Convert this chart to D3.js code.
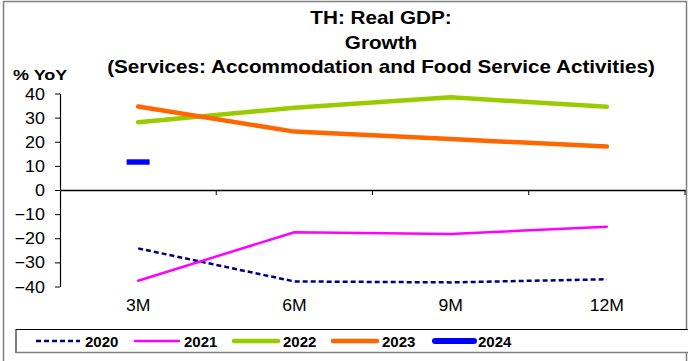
<!DOCTYPE html>
<html><head><meta charset="utf-8">
<script src="https://cdn.jsdelivr.net/npm/d3@7"></script>
<style>body{margin:0;background:#fff}svg{display:block;font-family:"Liberation Sans",Arial,sans-serif}</style>
</head><body><svg id="c" width="688" height="361"></svg>
<script>
const categories = ["3M","6M","9M","12M"];
const s2020 = [-24.2,-37.9,-38.3,-37.0];
const s2021 = [-37.6,-17.5,-18.2,-15.2];
const s2022 = [28.1,34.1,38.4,34.5];
const s2023 = [34.6,24.2,21.1,18.0];
const s2024 = [11.6,null,null,null];
const yTicks = [40,30,20,10,0,-10,-20,-30,-40];
const titleLines = ["TH: Real GDP:","Growth","(Services: Accommodation and Food Service Activities)"];

const series = [
  {name:"2020", values:s2020, color:"#000080", width:2.5, dash:"5,3"},
  {name:"2021", values:s2021, color:"#FF00FF", width:2.5, dash:null},
  {name:"2022", values:s2022, color:"#99CC00", width:4.5, dash:null},
  {name:"2023", values:s2023, color:"#FF6600", width:4.5, dash:null},
  {name:"2024", values:s2024, color:"#0000FF", width:5.5, dash:null, marker:true}
];

const svg = d3.select("#c");
svg.append("rect").attr("x",3.5).attr("y",1.5).attr("width",683).attr("height",365)
  .attr("fill","none").attr("stroke","#808080").attr("stroke-width",1.5);

const x = d3.scaleBand().domain(categories).range([60,685]);
const y = d3.scaleLinear().domain([-40,40]).range([286.5,93.5]);

function stretched(sel, sx){ // sel has data with px, py
  return sel.attr("transform",d=>`translate(${d.px},${d.py}) scale(${sx},1)`);
}

// title
stretched(svg.append("g").selectAll("text").data(titleLines.map((t,i)=>({t,px:381,py:24+i*24.5}))).join("text"),1.15)
  .attr("text-anchor","middle").attr("font-weight","bold").attr("font-size",18).attr("fill","#000").text(d=>d.t);
stretched(svg.append("g").selectAll("text").data([{t:"% YoY",px:13,py:80}]).join("text"),1.2)
  .attr("font-weight","bold").attr("font-size",15).text(d=>d.t);

// y axis
const ya = svg.append("g").attr("transform","translate(60,0)")
  .call(d3.axisLeft(y).tickValues(yTicks).tickSize(5).tickSizeOuter(0).tickFormat(d3.format("d")));
ya.select(".domain").attr("stroke","#000").attr("stroke-width",1.2);
ya.selectAll(".tick line").attr("stroke","#000");
ya.selectAll(".tick text").attr("font-size",16).attr("font-family","Liberation Sans, Arial, sans-serif")
  .attr("fill","#000").attr("x",0).attr("dy",0).attr("transform","translate(-15,5.5) scale(1.12,1)");

// x axis at zero
const xa = svg.append("g").attr("transform",`translate(0,${y(0)})`)
  .call(d3.axisBottom(x).tickSize(5).tickSizeOuter(0).tickFormat(""));
xa.select(".domain").attr("stroke","#000").attr("stroke-width",1.5);
xa.selectAll(".tick line").attr("transform",`translate(${x.bandwidth()/2},0)`).attr("stroke","#000");
stretched(svg.append("g").selectAll("text").data(categories.map(c=>({t:c,px:x(c)+x.bandwidth()/2,py:311}))).join("text"),1.1)
  .attr("text-anchor","middle").attr("font-size",16).text(d=>d.t);

const line = d3.line().defined(d=>d.v!=null).x(d=>x(d.c)+x.bandwidth()/2).y(d=>y(d.v));
series.forEach(s=>{
  const pts = categories.map((c,i)=>({c, v:s.values[i]}));
  if (s.marker) {
    svg.append("g").selectAll("rect").data(pts.filter(p=>p.v!=null)).join("rect")
      .attr("x",d=>x(d.c)+x.bandwidth()/2-11.5).attr("y",d=>y(d.v)-2.7)
      .attr("width",23).attr("height",5.4).attr("fill",s.color);
  } else {
    svg.append("path").datum(pts).attr("d",line).attr("fill","none")
      .attr("stroke",s.color).attr("stroke-width",s.width)
      .attr("stroke-dasharray",s.dash).attr("stroke-linejoin","round").attr("stroke-linecap", s.dash? "butt":"round");
  }
});

// legend
svg.append("rect").attr("x",16).attr("y",329.5).attr("width",700).attr("height",23)
  .attr("fill","#fff").attr("stroke","#000").attr("stroke-width",1);
svg.append("line").attr("x1",16).attr("x2",688).attr("y1",352.5).attr("y2",352.5).attr("stroke","#808080").attr("stroke-width",1.5);
const lx = [36,135,234,333,432];
const lg = svg.append("g").selectAll("g").data(series).join("g")
  .attr("transform",(d,i)=>`translate(${lx[i]},341)`);
lg.append("line").attr("x1",d=>d.name==="2024"?3:0).attr("x2",d=>d.name==="2024"?42:44).attr("y1",0).attr("y2",0)
  .attr("stroke",d=>d.color).attr("stroke-width",d=>d.name==="2024"?6:(d.width>3?4.5:2.5))
  .attr("stroke-dasharray",d=>d.dash).attr("stroke-linecap",d=>d.dash?"butt":"round");
lg.append("text").attr("x",d=>d.name==="2024"?46:49).attr("y",6).attr("font-weight","bold").attr("font-size",15).text(d=>d.name);
</script></body></html>
